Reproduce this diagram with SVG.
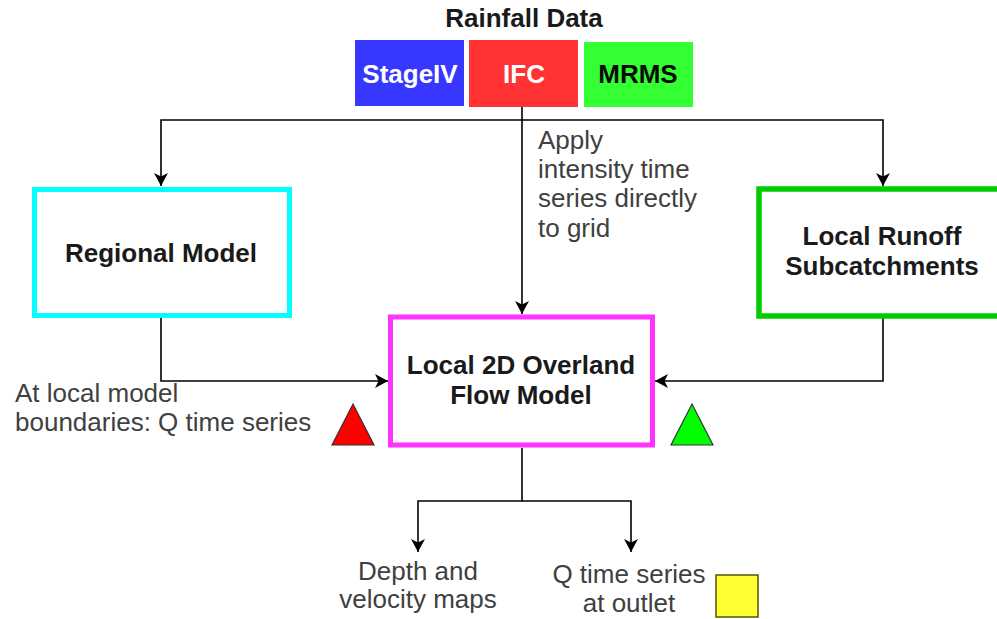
<svg xmlns="http://www.w3.org/2000/svg" width="997" height="619" viewBox="0 0 997 619">
<defs>
<style>
.bold{font-family:"Liberation Sans",Arial,sans-serif;font-weight:bold;font-size:26px;fill:#1a1a1a;text-anchor:middle}
.lbl{font-family:"Liberation Sans",Arial,sans-serif;font-size:26px;fill:#404040}
.conn{fill:none;stroke:#000;stroke-width:1.6}
</style>
<marker id="arr" markerUnits="userSpaceOnUse" markerWidth="16" markerHeight="16" refX="13" refY="7" orient="auto">
<path d="M0,0 L13,7 L0,14 L3.5,7 Z" fill="#000"/>
</marker>
</defs>
<rect width="997" height="619" fill="#fff"/>

<g id="connectors">
<path class="conn" d="M522,107 L522,314" marker-end="url(#arr)"/>
<path class="conn" d="M522,120 L161,120 L161,186" marker-end="url(#arr)"/>
<path class="conn" d="M522,120 L883,120 L883,186" marker-end="url(#arr)"/>
<path class="conn" d="M161,318 L161,381 L388,381" marker-end="url(#arr)"/>
<path class="conn" d="M883,318 L883,381 L655,381" marker-end="url(#arr)"/>
<path class="conn" d="M522,448 L522,501 L418,501 L418,552" marker-end="url(#arr)"/>
<path class="conn" d="M522,501 L631,501 L631,552" marker-end="url(#arr)"/>
</g>

<g id="rainfall-title">
<text class="bold" x="524" y="27">Rainfall Data</text>
</g>
<g id="stageiv">
<rect x="355" y="40" width="109" height="66" fill="#3737ff"/>
<text class="bold" x="410" y="83" style="fill:#fff">StageIV</text>
</g>
<g id="ifc">
<rect x="469" y="40" width="109" height="67" fill="#ff3333"/>
<text class="bold" x="524" y="83" style="fill:#fff">IFC</text>
</g>
<g id="mrms">
<rect x="584" y="42" width="109" height="65" fill="#33ff33"/>
<text class="bold" x="638" y="83" style="fill:#0a0a0a">MRMS</text>
</g>

<g id="regional-model">
<rect x="34.5" y="189.5" width="255" height="126" fill="#fff" stroke="#00ffff" stroke-width="5"/>
<text class="bold" x="161" y="262">Regional Model</text>
</g>

<g id="local-runoff">
<rect x="759" y="189" width="250" height="127" fill="#fff" stroke="#00cc00" stroke-width="5.5"/>
<text class="bold" x="882" y="245">Local Runoff</text>
<text class="bold" x="882" y="275">Subcatchments</text>
</g>

<g id="local-2d">
<rect x="390.5" y="317" width="262" height="128" fill="#fff" stroke="#ff33ff" stroke-width="5"/>
<text class="bold" x="521" y="374">Local 2D Overland</text>
<text class="bold" x="521" y="404">Flow Model</text>
</g>

<g id="apply-label">
<text class="lbl" x="538" y="149">Apply</text>
<text class="lbl" x="538" y="178">intensity time</text>
<text class="lbl" x="538" y="207">series directly</text>
<text class="lbl" x="538" y="237">to grid</text>
</g>

<g id="boundary-label">
<text class="lbl" x="15" y="402">At local model</text>
<text class="lbl" x="15" y="431">boundaries: Q time series</text>
</g>

<g id="red-triangle">
<polygon points="332,445 374,445 353,404" fill="#ff0000" stroke="#333" stroke-width="1.2"/>
</g>
<g id="green-triangle">
<polygon points="671,445 713,445 692,404" fill="#00ff00" stroke="#333" stroke-width="1.2"/>
</g>

<g id="depth-output">
<text class="lbl" x="418" y="580" text-anchor="middle">Depth and</text>
<text class="lbl" x="418" y="608" text-anchor="middle">velocity maps</text>
</g>

<g id="q-output">
<text class="lbl" x="629" y="583" text-anchor="middle">Q time series</text>
<text class="lbl" x="629" y="612" text-anchor="middle">at outlet</text>
</g>

<g id="yellow-square">
<rect x="716" y="575" width="42" height="42" fill="#ffff33" stroke="#555500" stroke-width="1.5"/>
</g>
</svg>
